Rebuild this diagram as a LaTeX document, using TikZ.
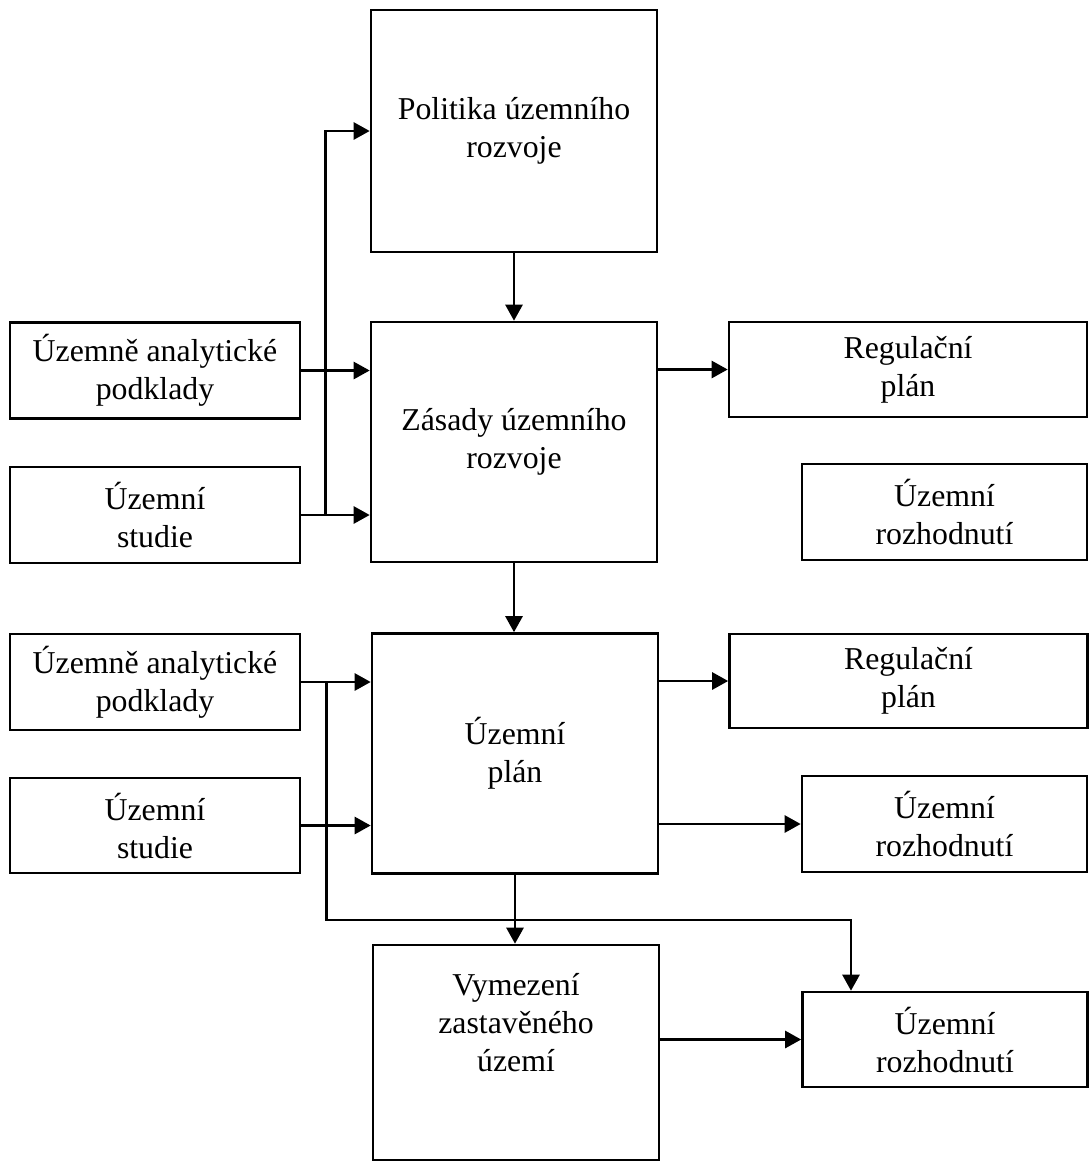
\documentclass[tikz,border=0pt]{standalone}
\usepackage{fontspec}
\setmainfont{Liberation Serif}
\usetikzlibrary{arrows.meta}

\tikzset{
  box/.style={draw, line width=1.3pt, align=center, inner sep=0pt,
    font=\fontsize{15.9}{19}\selectfont},
  bigbox/.style={box, minimum width=143pt, minimum height=120pt},
  leftbox/.style={box, minimum width=145pt, minimum height=48pt},
  rightbox/.style={box, minimum width=142.5pt, minimum height=48pt},
  regbox/.style={box, minimum width=179pt, minimum height=47.5pt},
  arr/.style={line width=1.3pt, -{Triangle[length=8pt,width=8.5pt]}}
}

\begin{document}
\begin{tikzpicture}[x=0.5pt, y=-0.5pt]

    \useasboundingbox (0,0) rectangle (1089,1168);

    % centre column
    \node[bigbox, minimum height=121pt] (pol) at (514,131) {Politika územního\\rozvoje};
    \node[bigbox] (zas) at (514,442) {Zásady územního\\rozvoje};
    \node[bigbox] (up) at (515,753.5) {Územní\\plán};
    \node[bigbox, minimum height=107.5pt] (vym) at (516,1052.5) {};
    \node[align=center, font=\fontsize{15.9}{19}\selectfont] (vymtext) at ([yshift=15pt]vym.center) {Vymezení\\zastavěného\\území};

    % left column
    \node[leftbox] (uapa) at (155,370.5) {Územně analytické\\podklady};
    \node[leftbox] (usa) at (155,515) {Územní\\studie};
    \node[leftbox] (uapb) at (155,682) {Územně analytické\\podklady};
    \node[leftbox, minimum height=47.5pt] (usb) at (155,825.5) {Územní\\studie};

    % right column
    \node[regbox] (rega) at (908,369.5) {Regulační\\plán};
    \node[rightbox] (ura) at (944.5,512) {Územní\\rozhodnutí};
    \node[regbox, minimum height=47pt] (regb) at (908.5,681) {Regulační\\plán};
    \node[rightbox] (urb) at (944.5,824) {Územní\\rozhodnutí};
    \node[rightbox, minimum height=47.5pt] (urc) at (945,1039.5) {Územní\\rozhodnutí};

    % down the middle
    \draw[arr] (pol.south) -- (pol.south |- zas.north);
    \draw[arr] (zas.south) -- (zas.south |- up.north);
    \draw[arr] (up.south) -- (up.south |- vym.north);

    % inputs of the upper level
    \draw[arr] ([xshift=12pt]usa.east) |- (pol.west);
    \draw[arr] (uapa.east) -- (uapa.east -| zas.west);
    \draw[arr] (usa.east) -- (usa.east -| zas.west);

    % inputs of the lower level
    \draw[arr] (uapb.east) -- (uapb.east -| up.west);
    \draw[arr] (usb.east) -- (usb.east -| up.west);
    \coordinate (bus) at (0,920);
    \draw[arr] ([xshift=12.5pt]uapb.east) -- ([xshift=12.5pt]uapb.east |- bus) -| ([xshift=-47pt]urc.north);

    % outputs
    \draw[arr] (rega.west -| zas.east) -- (rega.west);
    \draw[arr] (regb.west -| up.east) -- (regb.west);
    \draw[arr] (urb.west -| up.east) -- (urb.west);
    \draw[arr] (urc.west -| vym.east) -- (urc.west);

\end{tikzpicture}
\end{document}
